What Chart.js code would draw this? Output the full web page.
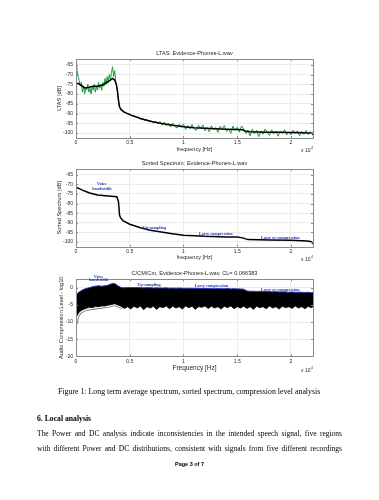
<!DOCTYPE html>
<html>
<head>
<meta charset="utf-8">
<script src="https://cdn.jsdelivr.net/npm/chart.js@4.4.0/dist/chart.umd.min.js"></script>
<style>
  body { margin: 0; background: #fff; width: 379px; height: 500px; position: relative; overflow: hidden; }
  canvas { position: absolute; left: 0; }
  .t { position: absolute; font-family: "Liberation Serif", serif; color: #000; white-space: nowrap; line-height: 1; }
  .j { text-align: justify; text-align-last: justify; white-space: normal; }
</style>
</head>
<body>
<canvas id="ltas" width="379" height="120" style="top:40px"></canvas>
<canvas id="sorted" width="379" height="110" style="top:160px"></canvas>
<canvas id="ccm" width="379" height="112" style="top:268px"></canvas>

<div class="t" style="left:58px;top:388px;font-size:7.85px">Figure 1: Long term average spectrum, sorted spectrum, compression level analysis</div>
<div class="t" style="left:37px;top:415px;font-size:7.7px;font-weight:bold">6. Local analysis</div>
<div class="t j" style="left:37px;top:429.5px;width:305px;font-size:7.5px">The Power and DC analysis indicate inconsistencies in the intended speech signal, five regions</div>
<div class="t j" style="left:37px;top:444.5px;width:305px;font-size:7.5px">with different Power and DC distributions, consistent with signals from five different recordings</div>
<div class="t" style="left:0;width:379px;text-align:center;top:462px;font-size:5.5px;font-weight:bold;font-family:'Liberation Sans',sans-serif">Page 3 of 7</div>

<script>
// LTAS, raw (green): 0..4400 Hz every 100 Hz, then 4600..22000 Hz every 200 Hz
const ltasLowDb = [-62, -68, -71, -73, -76, -74, -79, -76, -80, -77, -78, -75, -79, -77, -80, -76,
  -78, -75, -79, -76, -78, -74, -77, -75, -78, -74, -76, -72, -75, -71, -74, -70, -73, -69, -66,
  -71, -68, -74, -77, -81, -86, -87.5, -88, -88.8, -89.2];
const ltasHighDb = [-89.3, -90.4, -90.2, -91.3, -91.0, -91.9, -91.8, -92.9, -92.4, -93.6, -93.1,
  -94.0, -93.5, -94.9, -93.8, -95.3, -94.1, -95.9, -94.4, -96.3, -95.0, -96.9, -94.9, -96.6, -97.4,
  -95.4, -96.9, -95.3, -98.1, -96.2, -97.8, -95.6, -97.9, -98.6, -96.0, -97.5, -95.8, -98.9, -97.0,
  -99.3, -96.2, -98.4, -97.1, -99.6, -96.5, -97.8, -96.1, -99.2, -98.0, -100.1, -96.4, -98.7, -97.0,
  -99.5, -96.3, -98.0, -100.2, -98.4, -101.5, -98.0, -100.3, -98.6, -101.8, -99.0, -100.6, -97.9,
  -99.9, -101.2, -98.3, -100.4, -98.9, -101.6, -99.1, -100.3, -98.2, -101.0, -99.4, -100.9, -98.5,
  -100.1, -98.8, -101.4, -99.0, -100.6, -98.6, -100.8, -99.2, -100.9];

// LTAS, smoothed (black)
const smoothHz = [0, 30, 200, 500, 800, 1200, 1600, 2000, 2400, 2800, 3200, 3400, 3600, 3750, 3850,
  3950, 4050, 4200, 4500, 5000, 6000, 7000, 8000, 9000, 10000, 11000, 12000, 13000, 14000, 15000,
  15500, 15800, 16200, 17000, 18000, 19000, 20000, 21000, 22000, 22050];
const smoothDb = [-91, -75, -74.5, -75.5, -76.8, -76.5, -76, -76, -75.5, -74.3, -72.8, -72, -72.8,
  -75, -78, -83, -86.5, -88, -89.2, -90.5, -92.5, -94, -95.1, -96, -96.7, -97.2, -97.5, -97.8, -98,
  -98.1, -98.3, -99, -99.3, -99.4, -99.5, -99.6, -99.7, -99.8, -100, -101];

// sorted spectrum
const sortedHz = [0, 600, 1200, 2000, 3000, 3800, 3950, 4050, 4150, 4400, 5000, 6000, 6900, 7500,
  8800, 10000, 12000, 14000, 15000, 15500, 16000, 18000, 20000, 21500, 21900, 22050];
const sortedDb = [-71.5, -73, -74.4, -75.5, -76.1, -76.5, -79, -86, -87.5, -89, -90.8, -92.6, -93.9,
  -94.5, -95.6, -96.5, -97.1, -97.4, -97.5, -97.9, -98.8, -99, -99.2, -99.5, -99.9, -101];

// compression level: every 300 Hz (last point 22050 Hz)
const ccmTop = [-2.0, -1.2, -0.6, -0.2, 0.0, 0.3, 0.5, 0.6, 0.5, 0.6, 0.8, 1.2, 1.3, 0.6, 0.1, 0.0,
  0.1, 0.1, 0.05, 0.1, 0.05, 0.0, 0.05, 0.05, -0.05, 0.0, -0.05, -0.05, 0.0, -0.1, -0.05, -0.1,
  -0.05, -0.1, -0.15, -0.1, -0.15, -0.1, -0.15, -0.2, -0.15, -0.2, -0.2, -0.25, -0.2, -0.25, -0.25,
  -0.2, -0.3, -0.25, -0.3, -0.3, -0.4, -0.9, -1.0, -1.0, -1.05, -1.0, -1.1, -1.05, -1.1, -1.15,
  -1.1, -1.2, -1.15, -1.2, -1.25, -1.2, -1.3, -1.25, -1.3, -1.35, -1.3, -1.4, -1.4];
const ccmBottom = [-8.5, -7.0, -6.3, -6.0, -5.6, -5.8, -5.4, -5.5, -5.2, -5.3, -5.0, -4.9, -4.6,
  -5.0, -5.4, -6.0, -5.5, -6.2, -5.4, -5.9, -5.3, -6.4, -5.5, -5.9, -5.4, -6.3, -5.5, -5.8, -5.3,
  -6.1, -5.4, -5.9, -5.5, -6.2, -5.3, -5.8, -5.4, -6.3, -5.5, -5.7, -5.3, -6.0, -5.4, -5.9, -5.5,
  -6.2, -5.4, -5.8, -5.3, -6.1, -5.5, -5.9, -5.4, -6.0, -5.5, -6.3, -5.4, -5.8, -5.5, -6.1, -5.3,
  -5.9, -5.5, -6.2, -5.4, -5.8, -5.5, -6.0, -5.3, -5.9, -5.5, -6.1, -5.4, -5.8, -5.5];
const ccmLowHz = [50, 100, 200, 400, 700, 1000, 1500, 2000, 2500, 3000, 3300, 3500, 3700, 4000, 4300];
const ccmLow = [-10.5, -9, -8, -7.2, -6.6, -6.3, -6, -5.8, -5.6, -5.4, -5.1, -4.9, -5.0, -5.4, -5.8];

const noteText = ["Voice", "bandwidth", "Up-sampling", "Lossy compression", "Lossy re-compression"];
const sortedNoteHz = [2400, 2400, 7300, 13000, 19000];
const sortedNoteDb = [-70, -72.5, -92.5, -95.6, -97.7];
const ccmNoteHz = [2100, 2100, 6800, 12600, 19000];
const ccmNoteVal = [3.2, 2.35, 0.8, 0.5, -0.6];

const xTickHz = [0, 5000, 10000, 15000, 20000];
const xTickLabels = ["0", "0.5", "1", "1.5", "2"];
const dbTicks = [-100, -95, -90, -85, -80, -75, -70, -65];
const ccmTicks = [-20, -15, -10, -5, 0];

const pts = (xs, ys) => ys.map((v, i) => ({ x: xs[i], y: v }));
const ltasGreen = ltasLowDb.map((v, i) => ({ x: i * 100, y: v }))
  .concat(ltasHighDb.map((v, i) => ({ x: 4600 + i * 200, y: v })));
const ccmHz = ccmTop.map((v, i) => Math.min(i * 300, 22050));

const SANS = "'Liberation Sans', Arial, sans-serif";

function frame(cfg) {
  return {
    id: 'frame',
    afterDraw(chart) {
      const { ctx, chartArea: a, scales: { x, y } } = chart;
      ctx.save();
      ctx.strokeStyle = '#8a8a8a';
      ctx.lineWidth = 1;
      ctx.strokeRect(Math.round(a.left) + 0.5, Math.round(a.top) + 0.5,
        Math.round(a.right - a.left), Math.round(a.bottom - a.top));
      ctx.beginPath();
      x.ticks.forEach(t => {
        const p = Math.round(x.getPixelForValue(t.value)) + 0.5;
        ctx.moveTo(p, a.bottom); ctx.lineTo(p, a.bottom - 2);
        ctx.moveTo(p, a.top); ctx.lineTo(p, a.top + 2);
      });
      y.ticks.forEach(t => {
        const p = Math.round(y.getPixelForValue(t.value)) + 0.5;
        ctx.moveTo(a.left, p); ctx.lineTo(a.left + 2, p);
        ctx.moveTo(a.right, p); ctx.lineTo(a.right - 2, p);
      });
      ctx.stroke();

      ctx.fillStyle = '#262626';
      ctx.textAlign = 'center';
      ctx.textBaseline = 'middle';
      ctx.font = '5.6px ' + SANS;
      ctx.fillText(cfg.title, (a.left + a.right) / 2, a.top - 5.5);
      ctx.font = cfg.xSize + 'px ' + SANS;
      ctx.fillText(cfg.xLabel, (a.left + a.right) / 2, a.bottom + cfg.xOff);

      ctx.textAlign = 'right';
      ctx.font = '5px ' + SANS;
      ctx.fillText('x 10', a.right - 2.5, a.bottom + cfg.xOff + 1.5);
      ctx.font = '3.5px ' + SANS;
      ctx.textAlign = 'left';
      ctx.fillText('4', a.right - 2, a.bottom + cfg.xOff - 0.5);

      ctx.save();
      ctx.translate(cfg.yPos, (a.top + a.bottom) / 2);
      ctx.rotate(-Math.PI / 2);
      ctx.textAlign = 'center';
      ctx.font = '5.6px ' + SANS;
      ctx.fillText(cfg.yLabel, 0, 0);
      ctx.restore();

      if (cfg.noteX) {
        ctx.fillStyle = '#2536b8';
        ctx.textAlign = 'center';
        ctx.font = 'bold 4.2px "Liberation Serif", serif';
        noteText.forEach((s, i) => {
          ctx.fillText(s, x.getPixelForValue(cfg.noteX[i]), y.getPixelForValue(cfg.noteY[i]));
        });
      }
      ctx.restore();
    }
  };
}

function scales(ymin, ymax, yTicks) {
  return {
    x: {
      type: 'linear', min: 0, max: 22050,
      afterFit(s) { s.height = 22; },
      afterBuildTicks(s) { s.ticks = xTickHz.map(v => ({ value: v })); },
      ticks: { autoSkip: false, maxRotation: 0, padding: 2,
        color: '#262626', font: { size: 5, family: SANS },
        callback: (v) => xTickLabels[xTickHz.indexOf(v)] },
      grid: { color: '#ececec', drawTicks: false },
      border: { display: false }
    },
    y: {
      min: ymin, max: ymax,
      afterFit(s) { s.width = 30; },
      afterBuildTicks(s) { s.ticks = yTicks.map(v => ({ value: v })); },
      ticks: { autoSkip: false, padding: 3, color: '#262626',
        font: { size: 5, family: SANS } },
      grid: { color: '#ececec', drawTicks: false },
      border: { display: false }
    }
  };
}

function base(padTop, padBottom, ymin, ymax, yTicks) {
  return {
    responsive: false,
    animation: false,
    events: [],
    layout: { padding: { left: 46, right: 66, top: padTop, bottom: padBottom } },
    plugins: { legend: { display: false }, tooltip: { enabled: false } },
    elements: { point: { radius: 0 }, line: { tension: 0 } },
    scales: scales(ymin, ymax, yTicks)
  };
}

new Chart(document.getElementById('ltas'), {
  type: 'line',
  data: {
    datasets: [
      { data: pts(smoothHz, smoothDb), borderColor: '#000', borderWidth: 1.5, fill: false, order: 0 },
      { data: ltasGreen, borderColor: '#1f9a3c', borderWidth: 1, fill: false, order: 1 }
    ]
  },
  options: base(19, 0, -102.5, -62, dbTicks),
  plugins: [frame({ title: 'LTAS: Evidence-Phones-L.wav', xLabel: 'frequency [Hz]', xSize: 5.5, xOff: 11,
    yLabel: 'LTAS [dB]', yPos: 59 })]
});

new Chart(document.getElementById('sorted'), {
  type: 'line',
  data: {
    datasets: [
      { data: pts(sortedHz, sortedDb), borderColor: '#000', borderWidth: 1.5, fill: false }
    ]
  },
  options: base(9, 1.3, -102.5, -62, dbTicks),
  plugins: [frame({ title: 'Sorted Spectrum: Evidence-Phones-L.wav', xLabel: 'frequency [Hz]', xSize: 5.5,
    xOff: 11, yLabel: 'Sorted Spectrum [dB]', yPos: 59, noteX: sortedNoteHz, noteY: sortedNoteDb })]
});

new Chart(document.getElementById('ccm'), {
  type: 'line',
  data: {
    datasets: [
      { data: pts(ccmHz, ccmTop), borderColor: '#2536b8', borderWidth: 1, fill: false, order: 0 },
      { data: pts(ccmHz, ccmBottom), borderColor: '#000', borderWidth: 0.8, backgroundColor: '#000',
        fill: '-1', order: 1 },
      { data: pts(ccmLowHz, ccmLow), borderColor: '#fff', borderWidth: 1.2, fill: false, order: 2 },
      { data: pts(ccmLowHz, ccmLow), borderColor: '#7a7a7a', borderWidth: 3, fill: false, order: 3 }
    ]
  },
  options: base(11.3, 1.7, -20, 2.5, ccmTicks),
  plugins: [frame({ title: 'C/CM/Cm, Evidence-Phones-L.wav, CL= 0.066383', xLabel: 'Frequency [Hz]',
    xSize: 6.5, xOff: 12.4, yLabel: 'Audio Compression Level - log10', yPos: 61,
    noteX: ccmNoteHz, noteY: ccmNoteVal })]
});
</script>
</body>
</html>
